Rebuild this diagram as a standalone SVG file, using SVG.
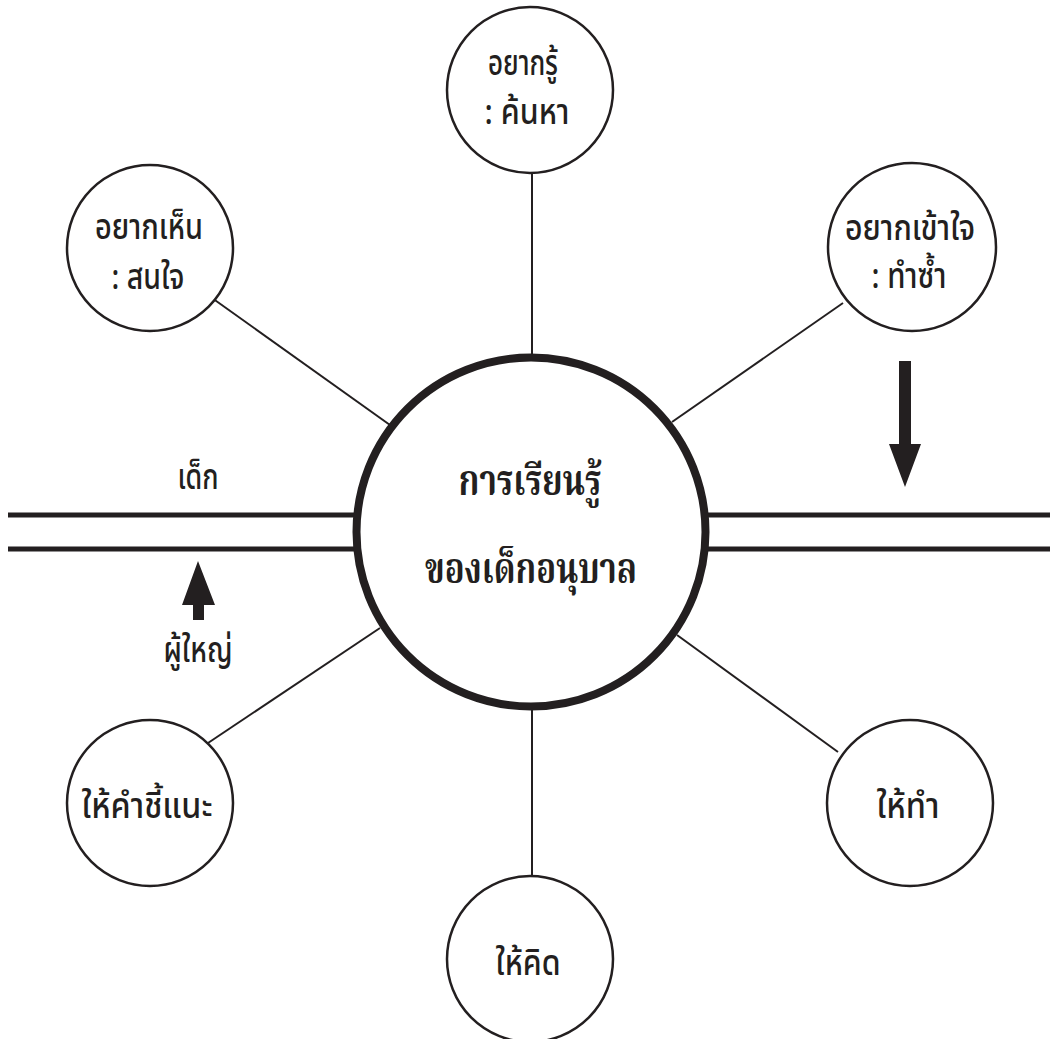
<svg xmlns="http://www.w3.org/2000/svg" width="1052" height="1039" viewBox="0 0 1052 1039">
<defs>
<style>
.node{fill:#fff;stroke:#231f20;stroke-width:2.5}
.hub{fill:#fff;stroke:#231f20;stroke-width:8}
.conn{stroke:#231f20;stroke-width:2;fill:none}
.rail{stroke:#231f20;stroke-width:5;fill:none}
.arrow{fill:#231f20}
.t{font-family:"Noto Sans Thai","Noto Sans","DejaVu Sans",sans-serif;font-size:35px;font-weight:500;fill:#231f20;text-anchor:middle}
.tc{font-family:"Noto Serif Thai","Liberation Serif","DejaVu Serif",serif;font-size:42px;font-weight:bold;fill:#231f20;text-anchor:middle}
</style>
</defs>
<rect width="1052" height="1039" fill="#fff"/>
<g id="connectors">
<line class="conn" x1="532" y1="172" x2="532" y2="356"/>
<line class="conn" x1="212" y1="298" x2="390" y2="425"/>
<line class="conn" x1="843" y1="303" x2="672" y2="422"/>
<line class="conn" x1="208" y1="743" x2="380" y2="628"/>
<line class="conn" x1="677" y1="635" x2="838" y2="752"/>
<line class="conn" x1="532" y1="708" x2="532" y2="876"/>
<line class="rail" x1="8" y1="515" x2="356" y2="515"/>
<line class="rail" x1="8" y1="549" x2="356" y2="549"/>
<line class="rail" x1="706" y1="515" x2="1050" y2="515"/>
<line class="rail" x1="706" y1="549" x2="1050" y2="549"/>
<polygon class="arrow" points="899,361 911,361 911,444 921,444 905,487 889,444 899,444"/>
<polygon class="arrow" points="198,561 215,605 204,605 204,620 193,620 193,605 182,605"/>
</g>
<g id="hub">
<circle class="hub" cx="531" cy="532" r="174.5"/>
<text class="tc" x="530" y="495" textLength="143" lengthAdjust="spacingAndGlyphs">การเรียนรู้</text>
<text class="tc" x="531" y="583" textLength="212" lengthAdjust="spacingAndGlyphs">ของเด็กอนุบาล</text>
</g>
<g id="node-top">
<circle class="node" cx="530" cy="90" r="83"/>
<text class="t" x="523" y="75" textLength="70" lengthAdjust="spacingAndGlyphs">อยากรู้</text>
<text class="t" x="527" y="124" textLength="85" lengthAdjust="spacingAndGlyphs">: ค้นหา</text>
</g>
<g id="node-top-left">
<circle class="node" cx="150" cy="248" r="83"/>
<text class="t" x="149" y="239" textLength="108" lengthAdjust="spacingAndGlyphs">อยากเห็น</text>
<text class="t" x="148" y="289" textLength="73" lengthAdjust="spacingAndGlyphs">: สนใจ</text>
</g>
<g id="node-top-right">
<circle class="node" cx="912" cy="247" r="84"/>
<text class="t" x="910" y="240" textLength="130" lengthAdjust="spacingAndGlyphs">อยากเข้าใจ</text>
<text class="t" x="909" y="288" textLength="75" lengthAdjust="spacingAndGlyphs">: ทำซ้ำ</text>
</g>
<g id="node-bottom-left">
<circle class="node" cx="150" cy="803" r="83"/>
<text class="t" x="147" y="818" textLength="131" lengthAdjust="spacingAndGlyphs">ให้คำชี้แนะ</text>
</g>
<g id="node-bottom-right">
<circle class="node" cx="910" cy="803" r="83"/>
<text class="t" x="908" y="818" textLength="63" lengthAdjust="spacingAndGlyphs">ให้ทำ</text>
</g>
<g id="node-bottom">
<circle class="node" cx="530" cy="959" r="83"/>
<text class="t" x="528" y="975" textLength="65" lengthAdjust="spacingAndGlyphs">ให้คิด</text>
</g>
<g id="labels">
<text class="t" x="198" y="489" textLength="41" lengthAdjust="spacingAndGlyphs">เด็ก</text>
<text class="t" x="198" y="662" textLength="69" lengthAdjust="spacingAndGlyphs">ผู้ใหญ่</text>
</g>
</svg>
